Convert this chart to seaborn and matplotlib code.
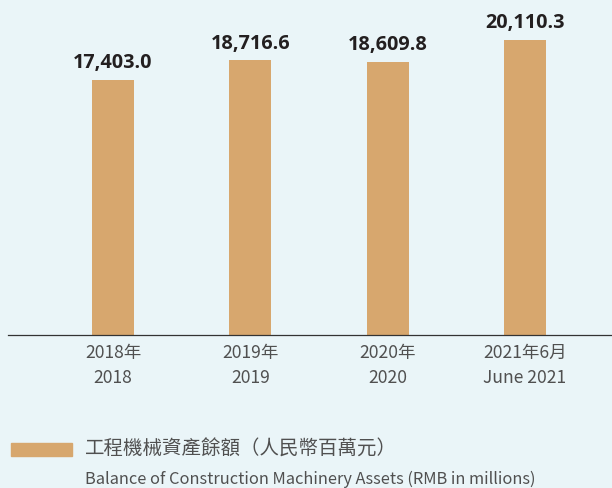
import matplotlib
matplotlib.use('Agg')
import matplotlib.pyplot as plt
import matplotlib.patches as mpatches
import pandas as pd
import seaborn as sns

# Chart data
periods_zh = ['2018年', '2019年', '2020年', '2021年6月']
periods_en = ['2018', '2019', '2020', 'June 2021']
balances = [17403.0, 18716.6, 18609.8, 20110.3]

legend_zh = '工程機械資產餘額（人民幣百萬元）'
legend_en = 'Balance of Construction Machinery Assets (RMB in millions)'

bg = '#EAF5F8'
bar_color = '#D7A76E'
text_grey = '#505050'

sns.set_style('white')
plt.rcParams['font.family'] = ['Noto Sans CJK TC', 'DejaVu Sans']

df = pd.DataFrame({
    'period': [f'{zh}\n{en}' for zh, en in zip(periods_zh, periods_en)],
    'balance': balances,
})

fig = plt.figure(figsize=(6.12, 4.88), dpi=100, facecolor=bg)
ax = fig.add_axes([8 / 612, (488 - 334.5) / 488, 604 / 612, 334.5 / 488])
ax.set_facecolor(bg)

sns.barplot(data=df, x='period', y='balance', color=bar_color,
            width=0.306, saturation=1, linewidth=0, ax=ax)

ax.set_xlim(-0.765, 3.634)
ax.set_ylim(0, 22846)

for side in ['top', 'right', 'left']:
    ax.spines[side].set_visible(False)
ax.spines['bottom'].set_color('#333333')
ax.spines['bottom'].set_linewidth(0.9)
ax.spines['bottom'].set_zorder(3)

ax.set_yticks([])
ax.set_xlabel('')
ax.set_ylabel('')
ax.tick_params(axis='x', length=0, pad=7)
for lbl in ax.get_xticklabels():
    lbl.set_fontsize(12.6)
    lbl.set_color(text_grey)
    lbl.set_linespacing(1.5)

ax.bar_label(ax.containers[0], labels=[f'{v:,.1f}' for v in balances],
             padding=5, fontsize=14.3, fontweight='bold', color='#231f20',
             family=['Open Sans', 'DejaVu Sans'])

# Legend drawn below the axes
fig.patches.append(mpatches.Rectangle((11 / 612, 1 - 455.7 / 488), 61 / 612, 12.4 / 488,
                                      transform=fig.transFigure, color=bar_color))
fig.text(85 / 612, 1 - 449.5 / 488, legend_zh, fontsize=14, color=text_grey,
         va='center', ha='left')
fig.text(85 / 612, 1 - 479 / 488, legend_en, fontsize=11.8, color=text_grey,
         va='center', ha='left')

fig.savefig('out.png', dpi=100, facecolor=bg)
